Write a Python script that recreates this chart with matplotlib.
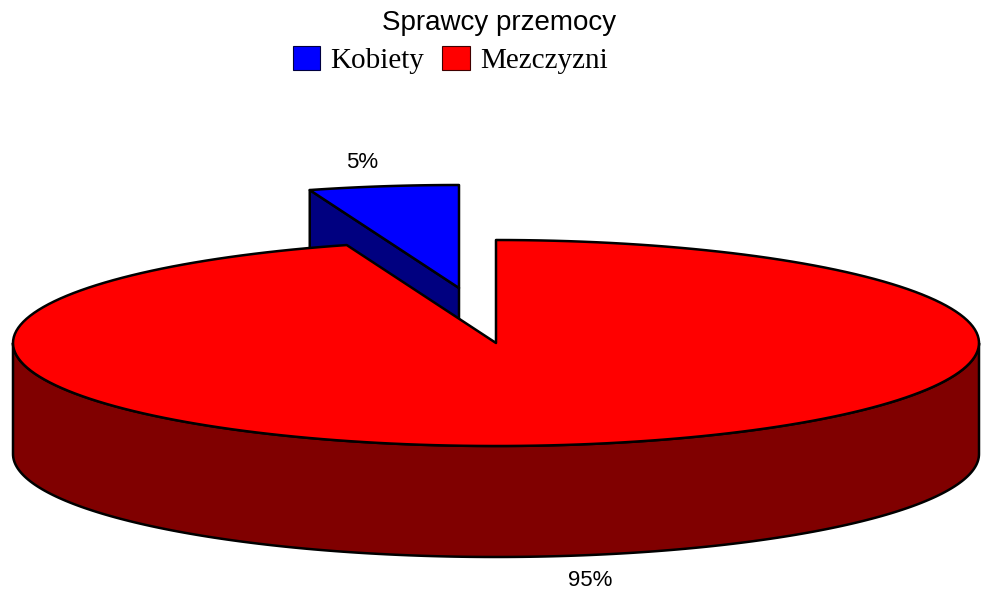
import numpy as np
import matplotlib.pyplot as plt
from matplotlib.patches import Polygon, Patch

# dane
kategorie = ['Kobiety', 'Mezczyzni']
wartosci = [5, 95]
etykiety = ['5%', '95%']
kolory_gora = ['#0000FF', '#FF0000']
kolory_bok = ['#000080', '#800000']

# geometria wykresu (w pikselach)
cx, cy = 496, 343
a, b = 483, 103
glebokosc = 111
przesuniecie = [(-37, -55), (0, 0)]
kat_start = 90

fig = plt.figure(figsize=(9.81, 5.96), dpi=100)
ax = fig.add_axes([0, 0, 1, 1])
ax.set_xlim(0, 981)
ax.set_ylim(596, 0)
ax.axis('off')


def punkt(t, dx=0, dy=0, dz=0):
    r = np.radians(t)
    return cx + dx + a * np.cos(r), cy + dy - b * np.sin(r) + dz


def luk(t0, t1, dx=0, dy=0, dz=0, n=200):
    t = np.linspace(t0, t1, n)
    x, y = punkt(t, dx, dy, dz)
    return list(zip(x, y))


kraw = dict(edgecolor='black', linewidth=1.8, joinstyle='round')

# katy wycinkow
katy = []
t = kat_start
for w in wartosci:
    t1 = t + 360 * w / sum(wartosci)
    katy.append((t, t1))
    t = t1

# wycinek Kobiety (wysuniety, rysowany najpierw)
t0, t1 = katy[0]
dx, dy = przesuniecie[0]
c = (cx + dx, cy + dy)
r1 = punkt(t1, dx, dy)
bok = [c, r1, (r1[0], r1[1] + glebokosc), (c[0], c[1] + glebokosc)]
ax.add_patch(Polygon(bok, closed=True, facecolor=kolory_bok[0], **kraw))
gora = [c] + luk(t0, t1, dx, dy)
ax.add_patch(Polygon(gora, closed=True, facecolor=kolory_gora[0], **kraw))

# wycinek Mezczyzni
t0, t1 = katy[1]
dx, dy = przesuniecie[1]
bok = luk(180, 360, dx, dy) + luk(360, 180, dx, dy, glebokosc)
ax.add_patch(Polygon(bok, closed=True, facecolor=kolory_bok[1], **kraw))
gora = [(cx + dx, cy + dy)] + luk(t0, t1, dx, dy)
ax.add_patch(Polygon(gora, closed=True, facecolor=kolory_gora[1], **kraw))

# etykiety procentowe
ax.text(362, 162, etykiety[0], ha='center', va='center', fontsize=16,
        family='Liberation Sans')
ax.text(590, 580, etykiety[1], ha='center', va='center', fontsize=16,
        family='Liberation Sans')

# tytul
fig.text(499 / 981, 1 - 23 / 596, 'Sprawcy przemocy', ha='center', va='center',
         fontsize=20, family='Liberation Sans')

# legenda
uchwyty = [Patch(facecolor=kolory_gora[i], edgecolor='#400000' if i else '#000040',
                 linewidth=0.8) for i in range(2)]
fig.legend(uchwyty, kategorie, loc='center', bbox_to_anchor=(450 / 981, 1 - 60 / 596),
           ncol=2, frameon=False, prop={'family': 'Liberation Serif', 'size': 21},
           handlelength=0.95, handleheight=0.9, handletextpad=0.35,
           columnspacing=0.6, borderpad=0, borderaxespad=0)

plt.savefig('out.png', dpi=100)
